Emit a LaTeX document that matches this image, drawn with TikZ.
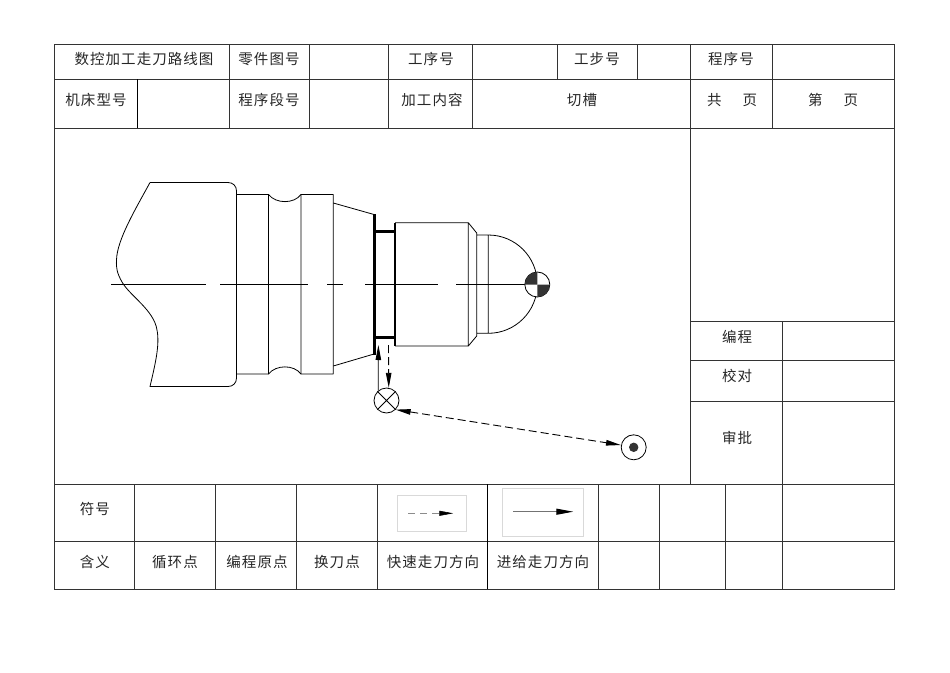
\documentclass[tikz,border=0pt]{standalone}
\usepackage{fontspec}
\usepackage{xcolor}
\usetikzlibrary{arrows.meta}
\newfontfamily\cjk[LetterSpace=7]{Noto Sans CJK SC}
\begin{document}
\begin{tikzpicture}[x=1pt,y=-1pt,>={Stealth[length=15pt,width=5.5pt,inset=0pt]},
  cell/.style={inner sep=0pt,font=\cjk\fontsize{14.5}{16}\selectfont,text=black!85},
  rule/.style={line width=0.9pt,draw=black!80},
  boldrule/.style={line width=1.5pt},
  part/.style={line width=0.8pt,line join=round},
  wall/.style={line width=2.6pt},
  marker/.style={circle,draw,fill=white,line width=0.8pt,inner sep=0pt,minimum size=25pt},
  rapid/.style={->,line width=0.9pt,dash pattern=on 8pt off 4pt},
  feed/.style={->,line width=0.8pt},
  legendbox/.style={draw=black!15,line width=0.6pt,inner sep=0pt}]
  \useasboundingbox (0,0) rectangle (950,672);

  \draw[rule] (54.5,44.3) rectangle (894,589);
  \draw[rule] (54.5,79) -- (894,79)
        (54.5,128) -- (894,128)
        (54.5,484) -- (894,484)
        (54.5,541.8) -- (894,541.8)
        (690.7,321) -- (894,321)
        (690.7,360) -- (894,360)
        (690.7,401) -- (894,401);
  \draw[rule] (229.7,44.3) -- (229.7,128)
        (309.7,44.3) -- (309.7,128)
        (388.7,44.3) -- (388.7,128)
        (472.7,44.3) -- (472.7,128)
        (557.7,44.3) -- (557.7,79)
        (637.7,44.3) -- (637.7,79)
        (690.7,44.3) -- (690.7,484)
        (772.7,44.3) -- (772.7,128)
        (782,321) -- (782,589)
        (134.7,484) -- (134.7,589)
        (215.7,484) -- (215.7,589)
        (296.7,484) -- (296.7,589)
        (377.7,484) -- (377.7,589)
        (598.7,484) -- (598.7,589)
        (659.4,484) -- (659.4,589)
        (725.4,484) -- (725.4,589);
  \draw[boldrule] (137.7,79) -- (137.7,128)
        (487.7,484) -- (487.7,589);

  \node[cell] (title)   at (144,59)  {数控加工走刀路线图};
  \node[cell] (partno)  at (269,59)  {零件图号};
  \node[cell] (opno)    at (431,59)  {工序号};
  \node[cell] (stepno)  at (597,59)  {工步号};
  \node[cell] (progno)  at (731,59)  {程序号};
  \node[cell] (machine) at (96,100)  {机床型号};
  \node[cell] (segno)   at (269,100) {程序段号};
  \node[cell] (content) at (432,100) {加工内容};
  \node[cell] (groove)  at (582,100) {切槽};
  \node[cell] (total)   at (732,100) {共\hspace{21pt}页};
  \node[cell] (page)    at (833,100) {第\hspace{21pt}页};
  \node[cell] (author)  at (737,337) {编程};
  \node[cell] (check)   at (737,376) {校对};
  \node[cell] (approve) at (737,438) {审批};
  \node[cell] (symbol)  at (95,509)  {符号};
  \node[cell] (meaning) at (95,562)  {含义};
  \node[cell] (cycle)   at (175,562) {循环点};
  \node[cell] (origin)  at (257,562) {编程原点};
  \node[cell] (change)  at (337,562) {换刀点};
  \node[cell] (fast)    at (433,562) {快速走刀方向};
  \node[cell] (slow)    at (543,562) {进给走刀方向};

  % workpiece
  \draw[part] (150,182.5) -- (228,182.5) .. controls (233,182.5) and (236.5,186) .. (236.5,191)
        -- (236.5,378) .. controls (236.5,383) and (233,386.5) .. (228,386.5) -- (150,386.5)
        .. controls (155,365) and (160,345) .. (157,330)
        .. controls (154,310) and (130,296) .. (122,282)
        .. controls (117,273) and (116,268) .. (116.5,260)
        .. controls (117,240) and (135,210) .. (150,182.5);
  \draw[part] (236.5,194.5) -- (268.5,194.5) .. controls (276,204) and (294,204) .. (301,194.5)
        -- (333.3,194.5) -- (333.3,374) -- (301,374)
        .. controls (294,364.5) and (276,364.5) .. (268.5,374) -- (236.5,374);
  \draw[part] (268.5,194.5) -- (268.5,374)
        (301,194.5) -- (301,374)
        (333.3,203) -- (374,214.5)
        (333.3,366) -- (374,354);
  \draw[wall] (374.5,214) -- (374.5,355)
        (374.5,231.5) -- (395,231.5)
        (374.5,337.5) -- (395,337.5)
        (395,222.7) -- (395,346);
  \draw[part] (395,222.7) -- (468.3,222.7) -- (476.7,233) -- (476.7,336) -- (468.3,346) -- (395,346)
        (468.3,222.7) -- (468.3,346)
        (476.7,235) -- (488.3,235) -- (488.3,333.3) -- (476.7,333.3)
        (488.3,235) arc[start angle=270,end angle=360,radius=49]
        (488.3,333.3) arc[start angle=90,end angle=0,radius=49];
  \draw[line width=0.7pt] (111,284.3) -- (206,284.3)
        (220,284.3) -- (307.5,284.3)
        (327,284.3) -- (342.5,284.3)
        (365,284.3) -- (438,284.3)
        (456,284.3) -- (537,284.3);

  % tool path
  \node[marker] (zero) at (537.3,284.5) {};
  \fill[black!80] (zero.center) -- (524.8,284.5) arc[start angle=180,end angle=270,radius=12.5] -- cycle;
  \fill[black!80] (zero.center) -- (549.8,284.5) arc[start angle=0,end angle=90,radius=12.5] -- cycle;
  \node[marker] (cross) at (386.5,400.5) {};
  \draw[line width=0.8pt] (cross.45) -- (cross.225)
        (cross.135) -- (cross.-45);
  \node[marker] (ret) at (633.7,447.3) {};
  \fill[black!80] (ret.center) circle[radius=4.7];

  \coordinate (feedtop) at (378.4,345);
  \coordinate (rapidtop) at (388.5,345);
  \draw[feed] (cross.130) -- (feedtop);
  \draw[rapid] (rapidtop) -- (cross.80);
  \draw[rapid,<->] (cross.-45) -- (ret.170);

  % legend
  \node[legendbox,minimum width=68.6pt,minimum height=35.7pt] (rapidbox) at (432,513.2) {};
  \node[legendbox,minimum width=80.6pt,minimum height=47.7pt] (feedbox) at (543,512.2) {};
  \coordinate (rapidfrom) at (408.3,513.3);
  \coordinate (rapidto) at (453.3,513.3);
  \coordinate (feedfrom) at (513,511.7);
  \coordinate (feedto) at (573.3,511.7);
  \draw[->,draw=black!45,line width=0.6pt,dash pattern=on 7pt off 5pt,
        >={Stealth[length=14pt,width=5pt,inset=0pt,black]}] (rapidfrom) -- (rapidto);
  \draw[->,draw=black!55,line width=1.1pt,
        >={Stealth[length=17pt,width=6pt,inset=0pt,black]}] (feedfrom) -- (feedto);
\end{tikzpicture}
\end{document}
